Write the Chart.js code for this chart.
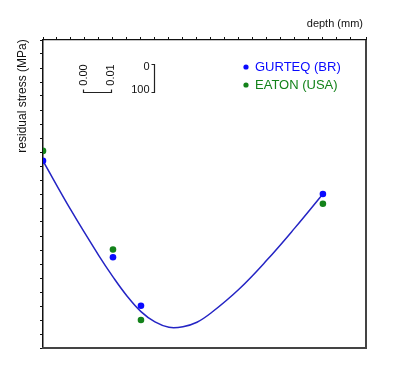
<!DOCTYPE html>
<html>
<head>
<meta charset="utf-8">
<script src="https://cdn.jsdelivr.net/npm/chart.js@4"></script>
<style>
  html, body { margin: 0; padding: 0; background: #fff; }
  #wrap { width: 405px; height: 386px; }
</style>
</head>
<body>
<div id="wrap"><canvas id="chart" width="405" height="386"></canvas></div>
<script>
"use strict";
// measured points (depth in mm, stress in MPa)
const depthMm = [0, 0.025, 0.035, 0.1];
const gurteqMpa = [-431, -776, -949, -550];
const eatonMpa = [-396, -748, -1000, -585];
// fitted curve
const curveDepth = [0, 0.01, 0.02, 0.025, 0.03, 0.035, 0.04, 0.045, 0.05, 0.055, 0.06, 0.07, 0.08, 0.09, 0.1];
const curveMpa = [-432, -608, -771, -846, -914, -970, -1007, -1026, -1024, -1008, -975, -890, -786, -671, -550];
const seriesNames = ["GURTEQ (BR)", "EATON (USA)"];
const xTitle = "depth (mm)";
const yTitle = "residual stress (MPa)";
// inset scale bar labels
const barX = [0, 0.01];
const barY = [0, 100];

const FONT = "'Liberation Sans', Arial, sans-serif";
const BLUE = "#0a0aff";
const GREEN = "#13821a";

function toXY(xs, ys) {
    return xs.map((x, i) => ({ x: x, y: ys[i] }));
}

// frame, titles, inset scale and legend
const extras = {
    id: "extras",
    afterDraw(chart) {
        const ctx = chart.ctx;
        const a = chart.chartArea;
        const xs = chart.scales.x, ys = chart.scales.y;
        ctx.save();
        // right and bottom edges of the frame
        ctx.strokeStyle = "#444";
        ctx.lineWidth = 2;
        ctx.beginPath();
        ctx.moveTo(a.right, a.top);
        ctx.lineTo(a.right, a.bottom);
        ctx.lineTo(a.left - 1, a.bottom);
        ctx.stroke();

        ctx.fillStyle = "#111";
        ctx.font = "11px " + FONT;
        ctx.textAlign = "right";
        ctx.textBaseline = "middle";
        ctx.fillText(xTitle, 363, 24);

        ctx.save();
        ctx.translate(23, 96);
        ctx.rotate(-Math.PI / 2);
        ctx.textAlign = "center";
        ctx.font = "12px " + FONT;
        ctx.fillText(yTitle, 0, 0);
        ctx.restore();

        // inset scale bar, lengths taken from the scales
        const lenX = Math.abs(xs.getPixelForValue(barX[1]) - xs.getPixelForValue(barX[0]));
        const lenY = Math.abs(ys.getPixelForValue(-barY[0]) - ys.getPixelForValue(-barY[1]));
        const hx = 83.5, hy = 92.5, vx = 154.5;
        ctx.strokeStyle = "#222";
        ctx.lineWidth = 1.2;
        ctx.beginPath();
        ctx.moveTo(hx, hy - 3);
        ctx.lineTo(hx, hy);
        ctx.lineTo(hx + lenX, hy);
        ctx.lineTo(hx + lenX, hy - 3);
        ctx.moveTo(vx - 3, hy - lenY);
        ctx.lineTo(vx, hy - lenY);
        ctx.lineTo(vx, hy);
        ctx.lineTo(vx - 3, hy);
        ctx.stroke();

        ctx.font = "11px " + FONT;
        ctx.textAlign = "center";
        [[84, barX[0]], [110.5, barX[1]]].forEach(([px, v]) => {
            ctx.save();
            ctx.translate(px, 75);
            ctx.rotate(-Math.PI / 2);
            ctx.fillText(v.toFixed(2), 0, 0);
            ctx.restore();
        });
        ctx.textAlign = "right";
        ctx.fillText(String(barY[0]), 149.5, 67);
        ctx.fillText(String(barY[1]), 149.5, 90);

        // legend
        ctx.font = "13px " + FONT;
        ctx.textAlign = "left";
        [1, 2].forEach((di, i) => {
            const ds = chart.data.datasets[di];
            const y = 67 + i * 18;
            ctx.fillStyle = ds.pointBackgroundColor;
            ctx.beginPath();
            ctx.arc(246, y, 2.6, 0, Math.PI * 2);
            ctx.fill();
            ctx.fillText(ds.label, 255, y + 0.5);
        });
        ctx.restore();
    }
};

const canvas = document.getElementById("chart");
const config = {
    type: "scatter",
    data: {
        datasets: [
            {
                label: "fit",
                data: toXY(curveDepth, curveMpa),
                showLine: true,
                borderColor: "#2424c4",
                borderWidth: 1.5,
                pointRadius: 0,
                tension: 0.4,
                order: 3
            },
            {
                label: seriesNames[0],
                data: toXY(depthMm, gurteqMpa),
                pointRadius: 3.3,
                pointBorderWidth: 0,
                pointBackgroundColor: BLUE,
                borderColor: BLUE,
                order: 1
            },
            {
                label: seriesNames[1],
                data: toXY(depthMm, eatonMpa),
                pointRadius: 3.3,
                pointBorderWidth: 0,
                pointBackgroundColor: GREEN,
                borderColor: GREEN,
                order: 2
            }
        ]
    },
    options: {
        responsive: false,
        animation: false,
        layout: { padding: { left: 0, top: 0, right: 39, bottom: 38 } },
        plugins: {
            legend: { display: false },
            tooltip: { enabled: false }
        },
        scales: {
            x: {
                type: "linear",
                position: "top",
                min: 0,
                max: 0.1154,
                ticks: { display: false, stepSize: 0.005 },
                grid: { drawOnChartArea: false, drawTicks: true, tickLength: 3, color: "#111" },
                border: { display: true, color: "#111", width: 1.2 },
                afterFit(scale) { scale.height = 40; }
            },
            y: {
                type: "linear",
                min: -1100,
                max: 0,
                ticks: { display: false, stepSize: 50 },
                grid: { drawOnChartArea: false, drawTicks: true, tickLength: 3, color: "#111" },
                border: { display: true, color: "#111", width: 1.5 },
                afterFit(scale) { scale.width = 43; }
            }
        }
    },
    plugins: [extras]
};
new Chart(canvas.getContext("2d"), config);
</script>
</body>
</html>
